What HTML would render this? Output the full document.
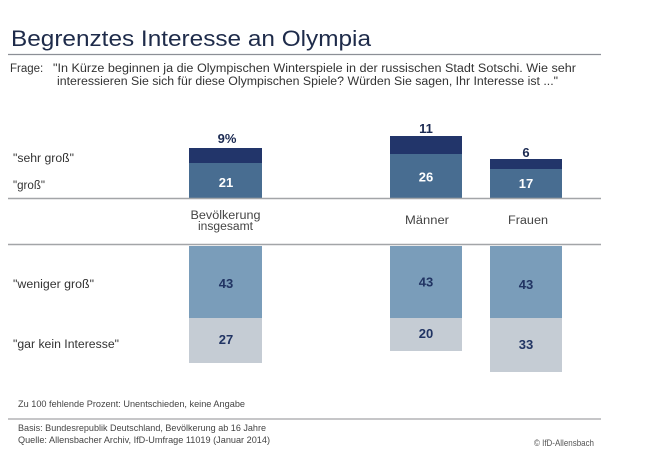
<!DOCTYPE html>
<html><head><meta charset="utf-8"><style>
html,body{margin:0;padding:0;background:#fff;}
svg{display:block;}
text{font-family:"Liberation Sans",sans-serif;}
</style></head><body>
<svg width="668" height="452" viewBox="0 0 668 452" xmlns="http://www.w3.org/2000/svg">
<rect width="668" height="452" fill="#fff"/>
<text x="11" y="46" font-size="22" fill="#1e2b4a" textLength="360" lengthAdjust="spacingAndGlyphs">Begrenztes Interesse an Olympia</text>
<line x1="8" y1="54.5" x2="601" y2="54.5" stroke="#8c8f96" stroke-width="1.3"/>
<text x="10" y="72" font-size="11.5" fill="#333">Frage:</text>
<text x="53" y="72" font-size="11.5" fill="#333" textLength="523" lengthAdjust="spacingAndGlyphs">"In Kürze beginnen ja die Olympischen Winterspiele in der russischen Stadt Sotschi. Wie sehr</text>
<text x="57" y="85" font-size="11.5" fill="#333" textLength="501" lengthAdjust="spacingAndGlyphs">interessieren Sie sich für diese Olympischen Spiele? Würden Sie sagen, Ihr Interesse ist ..."</text>

<!-- row labels -->
<text x="13" y="162" font-size="11.5" fill="#333" textLength="61" lengthAdjust="spacingAndGlyphs">"sehr groß"</text>
<text x="13" y="189" font-size="11.5" fill="#333" textLength="32" lengthAdjust="spacingAndGlyphs">"groß"</text>
<text x="13" y="288" font-size="11.5" fill="#333" textLength="81" lengthAdjust="spacingAndGlyphs">"weniger groß"</text>
<text x="13" y="348" font-size="11.5" fill="#333" textLength="106" lengthAdjust="spacingAndGlyphs">"gar kein Interesse"</text>

<!-- upper bars -->
<rect x="189" y="148" width="73" height="15" fill="#22356a"/>
<rect x="189" y="163" width="73" height="35" fill="#486d91"/>
<rect x="390" y="136" width="72" height="18" fill="#22356a"/>
<rect x="390" y="154" width="72" height="44" fill="#486d91"/>
<rect x="490" y="159" width="72" height="10" fill="#22356a"/>
<rect x="490" y="169" width="72" height="29" fill="#486d91"/>

<line x1="8" y1="198.5" x2="601" y2="198.5" stroke="#a3a5a8" stroke-width="1.5"/>
<line x1="8" y1="244.5" x2="601" y2="244.5" stroke="#a3a5a8" stroke-width="1.5"/>

<!-- lower bars -->
<rect x="189" y="246" width="73" height="72" fill="#7a9dba"/>
<rect x="189" y="318" width="73" height="45" fill="#c5ccd4"/>
<rect x="390" y="246" width="72" height="72" fill="#7a9dba"/>
<rect x="390" y="318" width="72" height="33" fill="#c5ccd4"/>
<rect x="490" y="246" width="72" height="72" fill="#7a9dba"/>
<rect x="490" y="318" width="72" height="54" fill="#c5ccd4"/>

<!-- top values -->
<g font-size="13" font-weight="bold" fill="#1b2a52" text-anchor="middle">
<text x="227" y="143">9%</text>
<text x="426" y="133">11</text>
<text x="526" y="157">6</text>
</g>
<g font-size="13" font-weight="bold" fill="#ffffff" text-anchor="middle">
<text x="226" y="187">21</text>
<text x="426" y="181.5">26</text>
<text x="526" y="188">17</text>
</g>
<g font-size="13" font-weight="bold" fill="#213463" text-anchor="middle">
<text x="226" y="288">43</text>
<text x="426" y="286.5">43</text>
<text x="526" y="289">43</text>
<text x="226" y="344">27</text>
<text x="426" y="338">20</text>
<text x="526" y="349">33</text>
</g>

<!-- categories -->
<g font-size="11.5" fill="#444" text-anchor="middle">
<text x="225.5" y="219" textLength="70" lengthAdjust="spacingAndGlyphs">Bevölkerung</text>
<text x="225.5" y="230" textLength="55" lengthAdjust="spacingAndGlyphs">insgesamt</text>
<text x="427" y="224" textLength="44" lengthAdjust="spacingAndGlyphs">Männer</text>
<text x="528" y="224" textLength="40" lengthAdjust="spacingAndGlyphs">Frauen</text>
</g>

<!-- footnotes -->
<text x="18" y="407" font-size="9.5" fill="#444" textLength="227" lengthAdjust="spacingAndGlyphs">Zu 100 fehlende Prozent: Unentschieden, keine Angabe</text>
<line x1="8" y1="419" x2="601" y2="419" stroke="#a3a5a8" stroke-width="1.3"/>
<text x="18" y="431" font-size="9.5" fill="#444" textLength="248" lengthAdjust="spacingAndGlyphs">Basis: Bundesrepublik Deutschland, Bevölkerung ab 16 Jahre</text>
<text x="18" y="443" font-size="9.5" fill="#444" textLength="252" lengthAdjust="spacingAndGlyphs">Quelle: Allensbacher Archiv, IfD-Umfrage 11019 (Januar 2014)</text>
<text x="534" y="446" font-size="9.5" fill="#555" textLength="60" lengthAdjust="spacingAndGlyphs">© IfD-Allensbach</text>
</svg>
</body></html>
